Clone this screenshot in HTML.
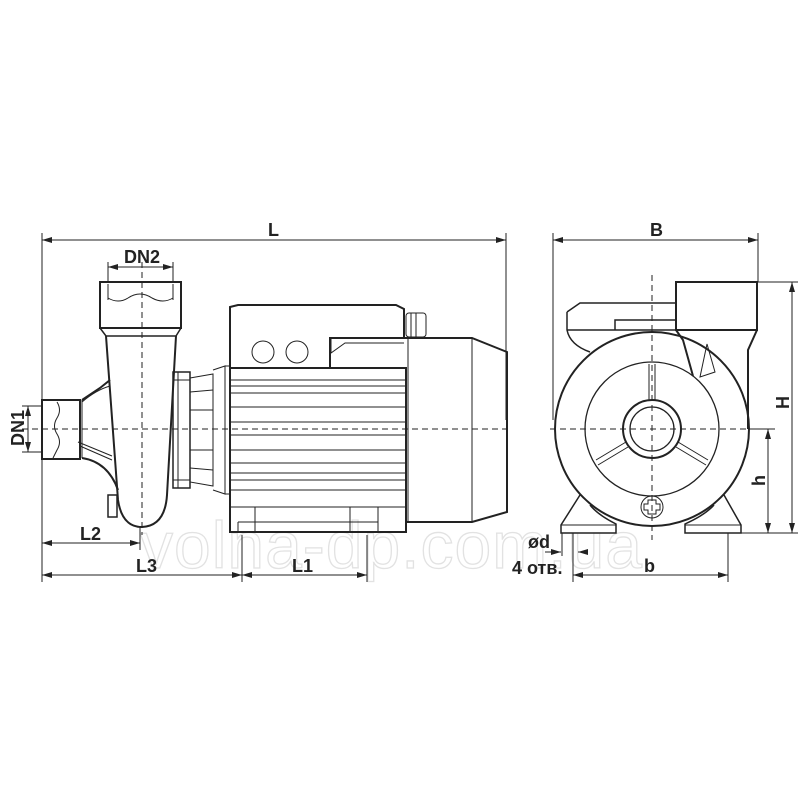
<!DOCTYPE html>
<html><head><meta charset="utf-8"><style>
html,body{margin:0;padding:0;background:#fff}
svg{display:block}
text{font-family:"Liberation Sans Narrow","Liberation Sans",sans-serif;fill:#222}
</style></head><body>
<svg width="800" height="800" viewBox="0 0 800 800" xmlns="http://www.w3.org/2000/svg">
<defs>
<marker id="a" viewBox="0 0 10 6" refX="10" refY="3" markerWidth="10" markerHeight="6" orient="auto-start-reverse"><path d="M0,0 L10,3 L0,6 z" fill="#222"/></marker>
</defs>
<text x="140" y="568" font-size="66" style="fill:#fff;stroke:#e2e2e2;stroke-width:1.3;letter-spacing:1px">volna-dp.com.ua</text>

<g fill="none" stroke="#222" stroke-width="1">
<line x1="42" y1="240" x2="506" y2="240" marker-start="url(#a)" marker-end="url(#a)"/>
<line x1="42" y1="233" x2="42" y2="582"/>
<line x1="506" y1="233" x2="506" y2="420"/>
<line x1="108" y1="267" x2="173" y2="267" marker-start="url(#a)" marker-end="url(#a)"/>
<line x1="108" y1="262" x2="108" y2="282"/><line x1="173" y1="262" x2="173" y2="282"/>
<line x1="42" y1="543" x2="140" y2="543" marker-start="url(#a)" marker-end="url(#a)"/>
<line x1="42" y1="575" x2="242" y2="575" marker-start="url(#a)" marker-end="url(#a)"/>
<line x1="242" y1="575" x2="367" y2="575" marker-start="url(#a)" marker-end="url(#a)"/>
<line x1="242" y1="535" x2="242" y2="582"/><line x1="367" y1="535" x2="367" y2="582"/>
<line x1="140" y1="527" x2="140" y2="550"/>
<line x1="28" y1="406" x2="28" y2="452" marker-start="url(#a)" marker-end="url(#a)"/>
<line x1="22" y1="406" x2="42" y2="406"/><line x1="22" y1="452" x2="42" y2="452"/>

<!-- outlet -->
<rect x="100" y="282" width="81" height="46" stroke-width="2"/>
<path d="M108,284 V300 M173,284 V300"/>
<path d="M108,298 Q118,304 128,298 Q140,290 152,298 Q163,304 173,298"/>
<path d="M100,328 L106,336 H176 L181,328" stroke-width="1.5"/>
<!-- volute body -->
<path d="M106,336 L118,500 Q122,527 142,527 Q165,526 167,495 L176,336" stroke-width="2"/>
<!-- inlet cone -->
<path d="M82,400 L100,388 L110,380" stroke-width="2"/>
<path d="M82,402 Q96,390 110,386"/>
<path d="M82,458 Q108,462 118,490" stroke-width="2"/>
<path d="M78,442 L112,456 M80,446 L112,460"/>
<path d="M82,400 V458"/>
<rect x="108" y="495" width="9" height="22" stroke-width="1.5"/>
<!-- inlet -->
<rect x="42" y="400" width="38" height="59" stroke-width="2"/>
<path d="M57,402 Q62,410 57,418 Q52,426 57,434 Q62,442 57,450 L53,458"/>
<!-- flange/adapter -->
<rect x="173" y="372" width="17" height="116" stroke-width="1.5"/>
<path d="M178,372 V488 M173,380 H190 M173,480 H190"/>
<path d="M190,378 L213,374 V486 L190,482 z"/>
<path d="M190,392 L213,390 M190,468 L213,470 M190,410 H213 M190,450 H213"/>
<path d="M213,370 L225,366 V494 L213,490" /><path d="M225,366 H230 M225,494 H230"/>
<!-- motor -->
<path d="M230,307 L238,305 H396 L404,309 V338 H330 V368 H230 z" stroke-width="2"/>
<path d="M331,338 V353 L345,343 H404"/>
<circle cx="263" cy="352" r="11"/><circle cx="297" cy="352" r="11"/>
<rect x="230" y="368" width="176" height="164" stroke-width="2"/>
<path d="M230,380 H406 M230,386 H406 M230,393 H406 M230,407 H406 M230,422 H406 M230,435 H406 M230,450 H406 M230,463 H406 M230,473 H406 M230,480 H406 M230,490 H406 M230,507 H406"/>
<path d="M255,507 V532 M350,507 V532 M238,522 H378 M238,522 V532 M378,507 V532"/>
<rect x="406" y="313" width="20" height="24" rx="3"/>
<path d="M411,313 V337 M416,313 V337"/>
<!-- fan cover -->
<path d="M404,338 H472 L507,352 V512 L472,522 H406" stroke-width="2"/>
<path d="M408,338 V522 M472,338 V522 M406,522 V532"/>
<path d="M22,429 H506" stroke-dasharray="6,4"/>
<path d="M142,262 V535" stroke-dasharray="6,4"/>

<!-- RIGHT VIEW -->
<line x1="553" y1="240" x2="758" y2="240" marker-start="url(#a)" marker-end="url(#a)"/>
<line x1="553" y1="233" x2="553" y2="420"/>
<line x1="758" y1="233" x2="758" y2="282"/>
<line x1="792" y1="282" x2="792" y2="533" marker-start="url(#a)" marker-end="url(#a)"/>
<line x1="768" y1="429" x2="768" y2="533" marker-start="url(#a)" marker-end="url(#a)"/>
<line x1="758" y1="282" x2="798" y2="282"/>
<line x1="741" y1="533" x2="798" y2="533"/>
<line x1="748" y1="429" x2="775" y2="429"/>
<line x1="573" y1="575" x2="728" y2="575" marker-start="url(#a)" marker-end="url(#a)"/>
<line x1="573" y1="533" x2="573" y2="582"/><line x1="728" y1="533" x2="728" y2="582"/>
<line x1="545" y1="552" x2="561" y2="552" marker-end="url(#a)"/>
<line x1="578" y1="552" x2="588" y2="552" marker-end="url(#a)" transform="rotate(180 583 552)"/>
<line x1="562" y1="533" x2="562" y2="556"/><line x1="573" y1="533" x2="573" y2="556"/>

<rect x="676" y="282" width="81" height="48" stroke-width="2"/>
<path d="M567,312 L580,303 H676 M567,312 V330 Q570,345 590,352 M567,330 H676 M615,330 V320 H676" stroke-width="1.5"/>
<path d="M676,330 L683,340 L693,376 M757,330 L748,350 V429" stroke-width="2"/>
<circle cx="652" cy="429" r="97" stroke-width="2"/>
<circle cx="652" cy="429" r="67" stroke-width="1.3"/>
<circle cx="652" cy="429" r="29" stroke-width="2"/>
<circle cx="652" cy="429" r="22" stroke-width="1.3"/>
<path d="M649,364 V400 M655,364 V400"/>
<path d="M626,442 L596,460 M628,447 L598,465"/>
<path d="M678,442 L708,460 M676,447 L706,465"/>
<path d="M707,344 L700,377 L715,372 z"/>
<circle cx="652" cy="507" r="11"/>
<path d="M648,500 H656 V504 H660 V510 H656 V514 H648 V510 H644 V504 H648 z"/>
<path d="M580,495 L561,525 V533 H616 V524 Q598,515 590,505" stroke-width="1.5"/>
<path d="M724,495 L741,525 V533 H685 V524 Q705,515 714,505" stroke-width="1.5"/>
<path d="M561,525 H616 M685,525 H741"/>
<path d="M550,429 H775" stroke-dasharray="6,4"/>
<path d="M652,275 V540" stroke-dasharray="6,4"/>
</g>
<g font-size="18" font-weight="bold">
<text x="268" y="236">L</text>
<text x="124" y="263">DN2</text>
<text x="80" y="540">L2</text>
<text x="136" y="572">L3</text>
<text x="292" y="572">L1</text>
<text x="650" y="236">B</text>
<text x="644" y="572">b</text>
<text x="528" y="548">ød</text>
<text x="512" y="574">4 отв.</text>
<text transform="translate(24,446) rotate(-90)">DN1</text>
<text transform="translate(789,409) rotate(-90)">H</text>
<text transform="translate(765,486) rotate(-90)">h</text>
</g>
</svg>
</body></html>
